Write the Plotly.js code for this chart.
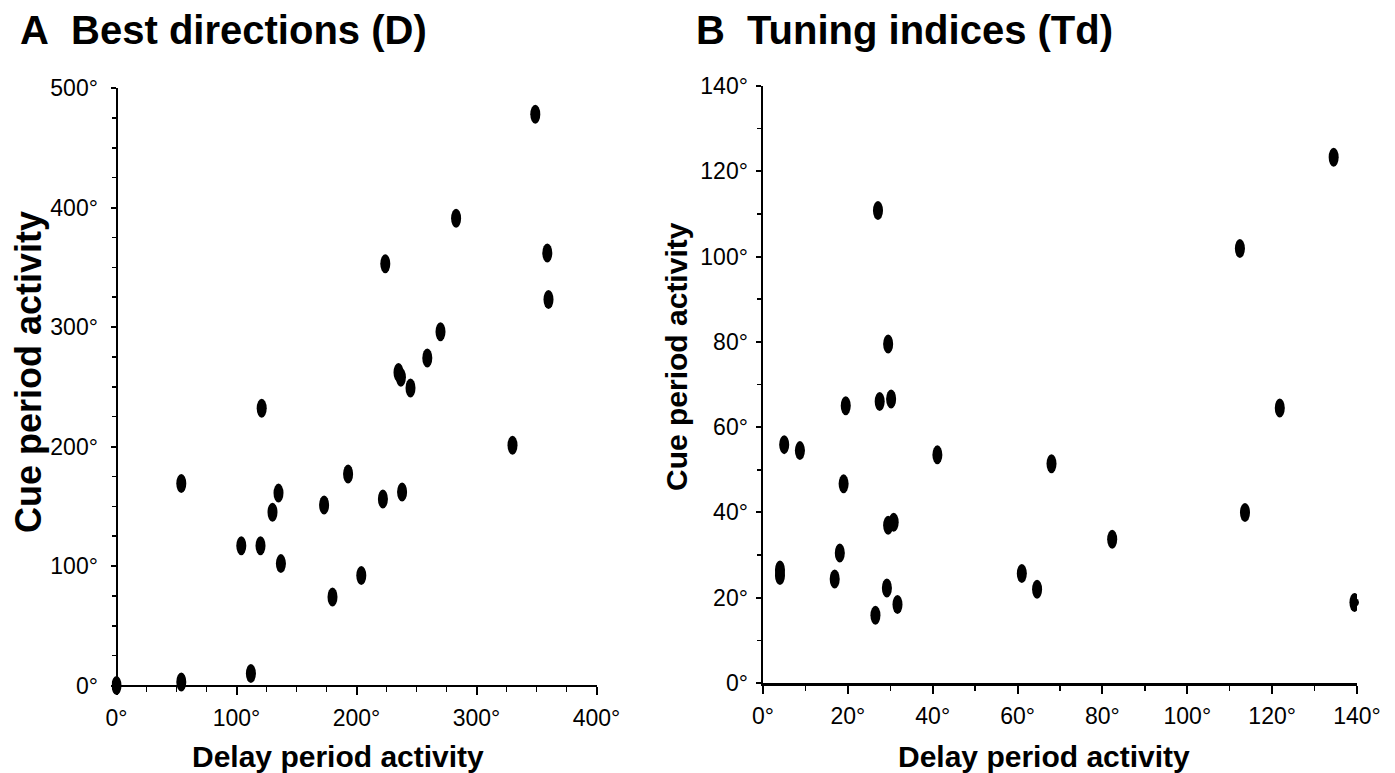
<!DOCTYPE html>
<html>
<head>
<meta charset="utf-8">
<script src="https://cdn.plot.ly/plotly-3.0.1.min.js"></script>
<style>html,body{margin:0;padding:0;background:#fff;}#chart{width:1395px;height:773px;}</style>
</head>
<body>
<div id="chart"></div>
<script>
// ---- Data: panel A, best directions (degrees) ----
const delayA = [0, 54, 112, 54, 104, 120, 121, 130, 135, 137, 173, 180, 193, 204, 222, 224, 238, 235, 237, 245, 259, 270, 283, 330, 349, 359, 360];
const cueA   = [0, 3, 10, 169, 117, 117, 232, 145, 161, 102, 151, 74, 177, 92, 156, 353, 162, 262, 258, 249, 274, 296, 391, 201, 478, 362, 323];

// ---- Data: panel B, tuning indices (degrees) ----
const delayB = [4, 4, 5, 8.7, 16.9, 18.1, 19, 19.5, 27.1, 26.5, 27.5, 29.2, 29.5, 30.8, 30.2, 29.5, 31.7, 41.1, 61, 64.6, 68, 82.3, 112.4, 113.6, 121.8, 134.5, 139.4];
const cueB   = [26.5, 25.2, 55.9, 54.5, 24.4, 30.5, 46.7, 65, 110.8, 15.9, 66, 22.3, 37, 37.7, 66.6, 79.5, 18.4, 53.5, 25.7, 22, 51.4, 33.7, 101.9, 40, 64.5, 123.3, 18.9];

// ---- Text ----
const titleA = "A\u00a0\u00a0Best directions (D)";
const titleB = "B\u00a0\u00a0Tuning indices (Td)";
const xTitle = "Delay period activity";
const yTitle = "Cue period activity";

// ---- Geometry (pixels in the 1395x773 page) ----
const W = 1395, H = 773;
const px = v => v / W;
const py = v => 1 - v / H;

const FONT = "Liberation Sans, Arial, Helvetica, sans-serif";
const tickFont = {family: FONT, size: 23, color: "#000"};

// panel A: data 0 at x=116.5px, 400 at 596.5px; 0 at y=685.5px, 500 at 88px
const aX0 = 116.5, aX1 = 596.5, aY0 = 685.5, aY1 = 88;
const aPadX = 4, aPadY = 8;
const aSx = (aX1 - aX0) / 400, aSy = (aY0 - aY1) / 500;

// panel B: 0 at x=763, 140 at 1357; 0 at y=683, 140 at 86
const bX0 = 763, bX1 = 1357, bY0 = 683, bY1 = 86;

function axisBase(extra) {
  return Object.assign({
    showline: true, linecolor: "#000", linewidth: 2.5,
    ticks: "outside", tickcolor: "#000", tickwidth: 2,
    ticksuffix: "°", tickfont: tickFont,
    showgrid: false, zeroline: false, fixedrange: true
  }, extra);
}

const layout = {
  width: W, height: H,
  margin: {l: 0, r: 0, t: 0, b: 0},
  paper_bgcolor: "#fff", plot_bgcolor: "#fff",
  showlegend: false,
  xaxis: axisBase({
    domain: [px(aX0 - aPadX * aSx), px(aX1)],
    range: [-aPadX, 400], anchor: "free", position: py(aY0),
    tick0: 0, dtick: 100, ticklen: 8, ticklabelstandoff: 3,
    minor: {dtick: 25, ticks: "outside", ticklen: 5, tickwidth: 1.5, tickcolor: "#000", showgrid: false}
  }),
  yaxis: axisBase({
    domain: [py(aY0 + aPadY * aSy), py(aY1)],
    range: [-aPadY, 500], anchor: "free", position: px(aX0),
    tick0: 0, dtick: 100, ticklen: 5, ticklabelstandoff: 8,
    minor: {dtick: 25, ticks: "outside", ticklen: 4, tickwidth: 1.5, tickcolor: "#000", showgrid: false}
  }),
  xaxis2: axisBase({
    domain: [px(bX0), px(bX1)], range: [0, 140], anchor: "y2",
    tick0: 0, dtick: 20, ticklen: 8, ticklabelstandoff: 3,
    minor: {dtick: 10, ticks: "outside", ticklen: 5, tickwidth: 1.5, tickcolor: "#000", showgrid: false}
  }),
  yaxis2: axisBase({
    domain: [py(bY0), py(bY1)], range: [0, 140], anchor: "x2",
    tick0: 0, dtick: 20, ticklen: 5, ticklabelstandoff: 3,
    minor: {dtick: 10, ticks: "outside", ticklen: 4, tickwidth: 1.5, tickcolor: "#000", showgrid: false}
  }),
  annotations: [
    {text: titleA, xref: "paper", yref: "paper", x: px(18), y: py(30), xanchor: "left", yanchor: "middle",
     showarrow: false, font: {family: FONT, size: 40, weight: "bold", color: "#000"}},
    {text: titleB, xref: "paper", yref: "paper", x: px(694), y: py(30), xanchor: "left", yanchor: "middle",
     showarrow: false, font: {family: FONT, size: 40, weight: "bold", color: "#000"}},
    {text: xTitle, xref: "paper", yref: "paper", x: px(338), y: py(756), xanchor: "center", yanchor: "middle",
     showarrow: false, font: {family: FONT, size: 30, weight: "bold", color: "#000"}},
    {text: xTitle, xref: "paper", yref: "paper", x: px(1044), y: py(756), xanchor: "center", yanchor: "middle",
     showarrow: false, font: {family: FONT, size: 30, weight: "bold", color: "#000"}},
    {text: yTitle, xref: "paper", yref: "paper", x: px(28), y: py(372), xanchor: "center", yanchor: "middle",
     textangle: -90, showarrow: false, font: {family: FONT, size: 36, weight: "bold", color: "#000"}},
    {text: yTitle, xref: "paper", yref: "paper", x: px(677), y: py(357), xanchor: "center", yanchor: "middle",
     textangle: -90, showarrow: false, font: {family: FONT, size: 30, weight: "bold", color: "#000"}}
  ],
  shapes: []
};

// vertical elliptical dots, anchored on data coordinates, sized in pixels
function dots(xs, ys, xref, yref) {
  return xs.map((x, i) => ({
    type: "circle", xref: xref, yref: yref,
    xsizemode: "pixel", ysizemode: "pixel",
    xanchor: x, yanchor: ys[i],
    x0: -5, x1: 5, y0: -9.5, y1: 9.5,
    fillcolor: "#000", line: {width: 0}, layer: "above"
  }));
}
layout.shapes = dots(delayA, cueA, "x", "y").concat(dots(delayB, cueB, "x2", "y2"));

const traces = [
  {type: "scatter", mode: "markers", name: "Best directions (D)", x: delayA, y: cueA, xaxis: "x", yaxis: "y",
   cliponaxis: false, marker: {symbol: "circle", size: 9, color: "#000"}},
  {type: "scatter", mode: "markers", name: "Tuning indices (Td)", x: delayB, y: cueB, xaxis: "x2", yaxis: "y2",
   cliponaxis: false, marker: {symbol: "circle", size: 9, color: "#000"}}
];

Plotly.newPlot("chart", traces, layout, {displayModeBar: false, staticPlot: true});
</script>
</body>
</html>
